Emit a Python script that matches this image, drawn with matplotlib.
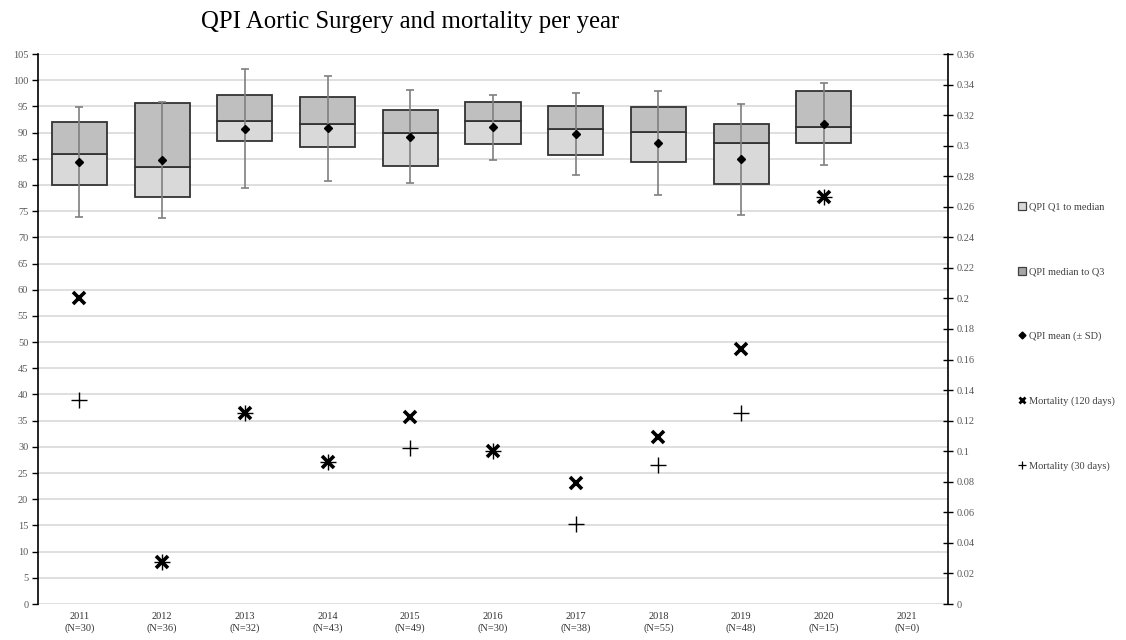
import matplotlib
matplotlib.use("Agg")
import matplotlib.pyplot as plt
from matplotlib.lines import Line2D
from matplotlib.ticker import FuncFormatter
import numpy as np

years = ["2011", "2012", "2013", "2014", "2015", "2016", "2017", "2018", "2019", "2020", "2021"]
counts = [30, 36, 32, 43, 49, 30, 38, 55, 48, 15, 0]
q1 = [79.9, 77.7, 88.3, 87.2, 83.7, 87.9, 85.7, 84.3, 80.2, 88.1, np.nan]
median = [86.0, 83.5, 92.3, 91.7, 90.0, 92.3, 90.6, 90.2, 88.1, 91.0, np.nan]
q3 = [92.1, 95.7, 97.2, 96.7, 94.4, 95.8, 95.1, 94.8, 91.7, 98.0, np.nan]
mean = [84.4, 84.7, 90.7, 90.8, 89.2, 91.0, 89.7, 88.0, 84.9, 91.6, np.nan]
sd = [10.5, 11.1, 11.35, 10.05, 8.85, 6.25, 7.85, 9.95, 10.6, 7.85, np.nan]
mort120 = [0.2, 0.0278, 0.125, 0.093, 0.1224, 0.1, 0.0789, 0.109, 0.1667, 0.2667, np.nan]
mort30 = [0.1333, 0.0278, 0.125, 0.093, 0.102, 0.1, 0.0526, 0.0909, 0.125, 0.2667, np.nan]

plt.rcParams['font.family'] = ['Liberation Serif', 'DejaVu Serif']
W, H = 1126, 640
fig = plt.figure(figsize=(W / 100, H / 100), dpi=100)
ax = fig.add_axes([38 / W, (H - 604) / H, (948 - 38) / W, 550 / H])

x = np.arange(len(years))
q1a, meda, q3a = np.array(q1), np.array(median), np.array(q3)
light = "#d9d9d9"
dark = "#bfbfbf"
edge = "#333333"
bw = 0.665
ax.bar(x, meda - q1a, bottom=q1a, width=bw, color=light, edgecolor=edge, linewidth=1.3, zorder=3)
ax.bar(x, q3a - meda, bottom=meda, width=bw, color=dark, edgecolor=edge, linewidth=1.3, zorder=3)
ax.errorbar(x, mean, yerr=sd, fmt='none', ecolor="#7f7f7f", elinewidth=1.2, capsize=3, capthick=1.2, zorder=4)
ax.plot(x, mean, linestyle='none', marker='D', markersize=4.5, color='black', zorder=5)

ax.set_xlim(-0.5, len(years) - 0.5)
ax.set_ylim(0, 105)
ax.set_yticks(np.arange(0, 106, 5))
ax.grid(axis='y', color="#d9d9d9", linewidth=1.2, zorder=0)
ax.set_axisbelow(True)
ax.set_xticks(x)
ax.set_xticklabels([f"{y}\n(N={n})" for y, n in zip(years, counts)], fontsize=7.5, color="#333333", linespacing=1.25)
ax.tick_params(axis='x', length=0, pad=6)
ax.tick_params(axis='y', direction='out', length=4, width=1, labelsize=7.5, labelcolor="#595959", pad=3)
for s in ['top', 'bottom', 'right']:
    ax.spines[s].set_visible(False)
ax.spines['left'].set_color('black')
ax.spines['left'].set_linewidth(1.2)

ax2 = ax.twinx()
ax2.set_ylim(0, 0.36)
ax2.set_yticks(np.round(np.arange(0, 0.361, 0.02), 2))
ax2.yaxis.set_major_formatter(FuncFormatter(lambda v, p: f"{v:g}"))
ax2.tick_params(axis='y', direction='inout', length=7, width=1, labelsize=7.5, labelcolor="#595959", pad=3)
for s in ['top', 'bottom', 'left']:
    ax2.spines[s].set_visible(False)
ax2.spines['right'].set_color('black')
ax2.spines['right'].set_linewidth(1.2)
ax2.plot(x, mort30, linestyle='none', marker='+', markersize=11, markeredgewidth=1.0, color='black', zorder=6)
ax2.plot(x, mort120, linestyle='none', marker='x', markersize=9, markeredgewidth=2.6, color='black', zorder=6)

fig.text(410 / W, 1 - 22 / H, "QPI Aortic Surgery and mortality per year", ha='center', va='center', fontsize=17.8)

handles = [
    Line2D([], [], linestyle='none', marker='s', markersize=6, markerfacecolor=light, markeredgecolor="#404040", markeredgewidth=0.9),
    Line2D([], [], linestyle='none', marker='s', markersize=6, markerfacecolor="#a6a6a6", markeredgecolor="#404040", markeredgewidth=0.9),
    Line2D([], [], linestyle='none', marker='D', markersize=3.5, color='black'),
    Line2D([], [], linestyle='none', marker='x', markersize=5, markeredgewidth=2, color='black'),
    Line2D([], [], linestyle='none', marker='+', markersize=6, markeredgewidth=0.9, color='black'),
]
labels = ["QPI Q1 to median", "QPI median to Q3", "QPI mean (± SD)", "Mortality (120 days)", "Mortality (30 days)"]
fig.legend(handles, labels, loc='upper left', bbox_to_anchor=(1008 / W, 1 - 193 / H), frameon=False,
           fontsize=7.5, labelspacing=5.3, handlelength=0.8, handletextpad=0.3, labelcolor="#404040")

fig.savefig("out.png", dpi=100)
